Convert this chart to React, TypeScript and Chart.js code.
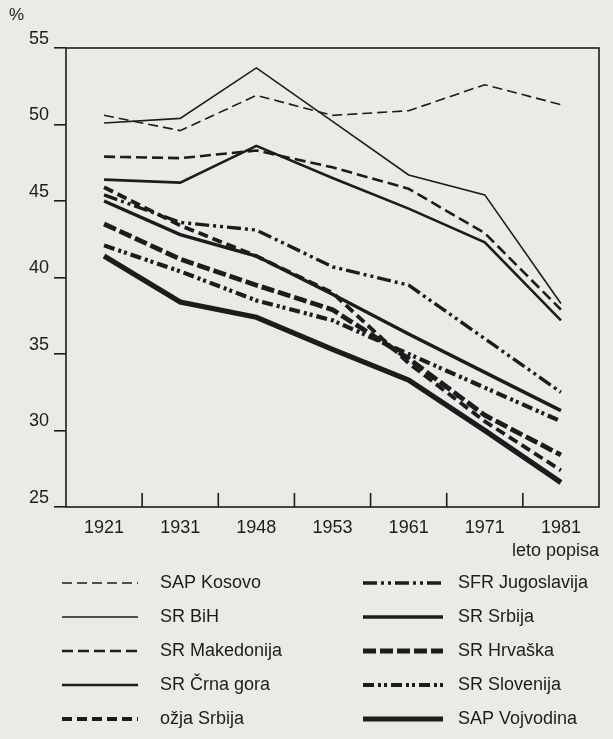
import { useEffect, useRef } from 'react';
import { Chart, registerables } from 'chart.js';

Chart.register(...registerables);

// Census years (category axis)
const years = ['1921', '1931', '1948', '1953', '1961', '1971', '1981'];

// Series values (%)
const sapKosovo = [50.6, 49.6, 51.9, 50.6, 50.9, 52.6, 51.3];
const srBih = [50.1, 50.4, 53.7, 50.2, 46.7, 45.4, 38.3];
const srMakedonija = [47.9, 47.8, 48.3, 47.2, 45.8, 42.9, 37.9];
const srCrnaGora = [46.4, 46.2, 48.6, 46.5, 44.5, 42.3, 37.2];
const ozjaSrbija = [45.9, 43.4, 41.4, 39.0, 34.4, 30.6, 27.4];
const sfrJugoslavija = [45.4, 43.6, 43.1, 40.7, 39.5, 36.0, 32.5];
const srSrbija = [45.0, 42.8, 41.4, 38.9, 36.3, 33.8, 31.3];
const srHrvaska = [43.5, 41.2, 39.5, 37.9, 34.7, 31.0, 28.4];
const srSlovenija = [42.1, 40.4, 38.5, 37.2, 35.0, 32.8, 30.6];
const sapVojvodina = [41.4, 38.4, 37.4, 35.3, 33.3, 30.0, 26.6];

const seriesNames = [
  'SAP Kosovo',
  'SR BiH',
  'SR Makedonija',
  'SR Črna gora',
  'ožja Srbija',
  'SFR Jugoslavija',
  'SR Srbija',
  'SR Hrvaška',
  'SR Slovenija',
  'SAP Vojvodina',
];

const yTicks = [25, 30, 35, 40, 45, 50, 55];
const xAxisTitle = 'leto popisa';
const yUnit = '%';

export default function App() {
  const ref = useRef<HTMLCanvasElement | null>(null);

  useEffect(() => {
    if (!ref.current) return;
    const ink = '#1c1c1c';
    const family = "'Liberation Sans', Arial, Helvetica, sans-serif";
    const font = { family, size: 18 };

    const values = [
      sapKosovo, srBih, srMakedonija, srCrnaGora, ozjaSrbija,
      sfrJugoslavija, srSrbija, srHrvaska, srSlovenija, sapVojvodina,
    ];
    const styles: { w: number; dash: number[] }[] = [
      { w: 1.6, dash: [10, 5] },
      { w: 1.6, dash: [] },
      { w: 2.6, dash: [11, 5] },
      { w: 2.6, dash: [] },
      { w: 3.8, dash: [10, 5] },
      { w: 3.4, dash: [14, 4, 3, 4, 3, 4] },
      { w: 3.4, dash: [] },
      { w: 4.8, dash: [13, 4] },
      { w: 4.2, dash: [11, 4, 3, 3, 3, 4] },
      { w: 5.2, dash: [] },
    ];

    const datasets = values.map((v, i) => ({
      label: seriesNames[i],
      data: v,
      borderColor: ink,
      backgroundColor: ink,
      borderWidth: styles[i].w,
      borderDash: styles[i].dash,
      pointRadius: 0,
      tension: 0,
      fill: false,
    }));

    const bgPlugin = {
      id: 'paperBg',
      beforeDraw(chart: any) {
        const { ctx, width, height } = chart;
        ctx.save();
        ctx.fillStyle = '#eaeae6';
        ctx.fillRect(0, 0, width, height);
        ctx.restore();
      },
    };

    const framePlugin = {
      id: 'frameTicks',
      afterDraw(chart: any) {
        const { ctx, chartArea } = chart;
        const { left, right, top, bottom } = chartArea;
        const xs = chart.scales.x;
        ctx.save();
        ctx.strokeStyle = ink;
        ctx.lineWidth = 1.6;
        ctx.setLineDash([]);
        ctx.strokeRect(left, top, right - left, bottom - top);
        for (let i = 1; i < years.length; i++) {
          const xp = (xs.getPixelForTick(i - 1) + xs.getPixelForTick(i)) / 2;
          ctx.beginPath();
          ctx.moveTo(xp, bottom);
          ctx.lineTo(xp, bottom - 14);
          ctx.stroke();
        }
        ctx.fillStyle = ink;
        ctx.font = `17px ${family}`;
        ctx.textAlign = 'left';
        ctx.textBaseline = 'middle';
        ctx.fillText(yUnit, 9, 15);
        ctx.restore();
      },
    };

    const legendPlugin = {
      id: 'twoColLegend',
      afterDraw(chart: any) {
        const { ctx } = chart;
        const ds = chart.data.datasets;
        ctx.save();
        ctx.font = `18px ${family}`;
        ctx.fillStyle = ink;
        ctx.strokeStyle = ink;
        ctx.textAlign = 'left';
        ctx.textBaseline = 'middle';
        ds.forEach((d: any, i: number) => {
          const col = i < 5 ? 0 : 1;
          const row = i % 5;
          const y = 583 + row * 34;
          const x0 = col ? 363 : 62;
          const x1 = col ? 443 : 138;
          const tx = col ? 458 : 160;
          ctx.lineWidth = d.borderWidth;
          ctx.setLineDash(d.borderDash || []);
          ctx.beginPath();
          ctx.moveTo(x0, y);
          ctx.lineTo(x1, y);
          ctx.stroke();
          ctx.setLineDash([]);
          ctx.fillText(d.label, tx, y);
        });
        ctx.restore();
      },
    };

    const chart = new Chart(ref.current, {
      type: 'line',
      data: { labels: years, datasets },
      options: {
        responsive: false,
        animation: false,
        layout: { padding: { left: 0, top: 48, right: 14, bottom: 176.8 } },
        plugins: {
          legend: { display: false },
          tooltip: { enabled: false },
          title: { display: false },
        },
        scales: {
          x: {
            type: 'category',
            offset: true,
            grid: { display: false, drawTicks: false },
            border: { display: false },
            ticks: { font, color: ink, padding: 10, maxRotation: 0, autoSkip: false },
            title: {
              display: true,
              text: xAxisTitle,
              align: 'end',
              font,
              color: ink,
              padding: { top: -8, bottom: 0 },
            },
          },
          y: {
            type: 'linear',
            min: yTicks[0],
            max: yTicks[yTicks.length - 1],
            afterBuildTicks: (scale: any) => {
              scale.ticks = yTicks.map((v) => ({ value: v }));
            },
            afterFit: (scale: any) => {
              scale.width = 66;
            },
            grid: {
              drawOnChartArea: false,
              drawTicks: true,
              tickLength: 12,
              color: ink,
              lineWidth: 1.6,
            },
            border: { display: false },
            ticks: { font, color: ink, padding: 5, labelOffset: -9 },
          },
        },
      } as any,
      plugins: [bgPlugin, framePlugin, legendPlugin],
    });

    return () => chart.destroy();
  }, []);

  return (
    <div style={{ position: 'absolute', left: 0, top: 0, width: 613, height: 739 }}>
      <canvas ref={ref} width={613} height={739} style={{ display: 'block' }} />
    </div>
  );
}
